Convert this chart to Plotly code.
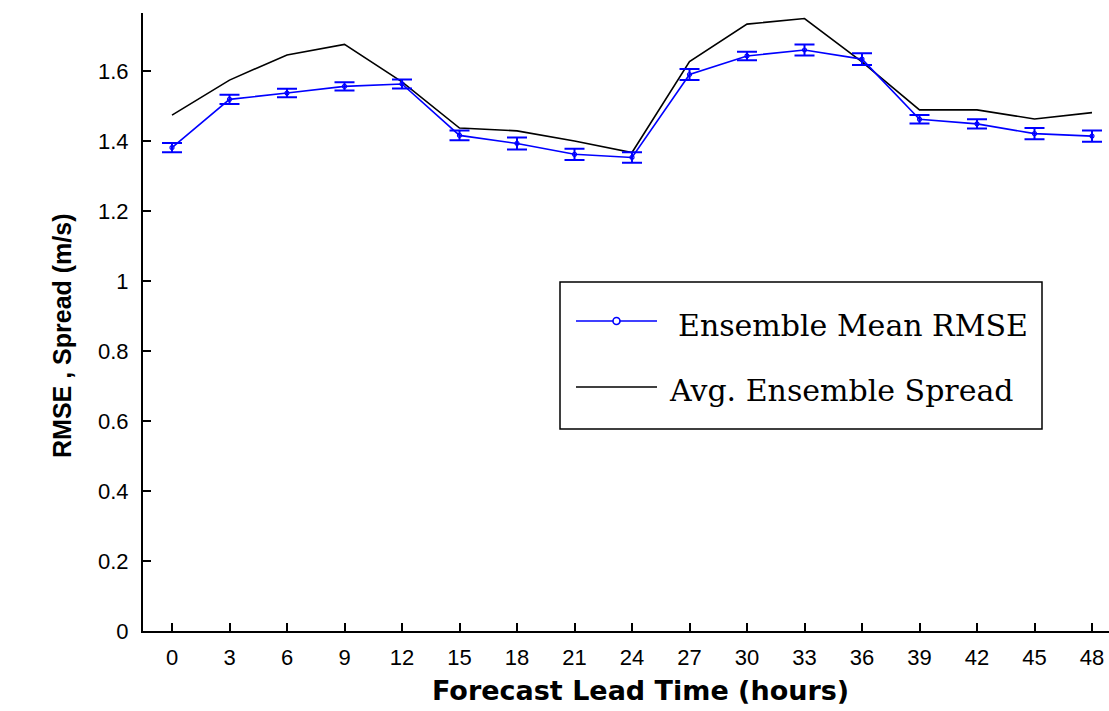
import plotly.graph_objects as go

lead_hours = [0, 3, 6, 9, 12, 15, 18, 21, 24, 27, 30, 33, 36, 39, 42, 45, 48]
rmse = [1.381, 1.519, 1.537, 1.556, 1.563, 1.416, 1.393, 1.362, 1.353,
        1.590, 1.643, 1.660, 1.634, 1.462, 1.449, 1.421, 1.414]
rmse_err = [0.013, 0.013, 0.012, 0.012, 0.013, 0.014, 0.017, 0.016, 0.015,
            0.016, 0.012, 0.016, 0.017, 0.012, 0.013, 0.016, 0.016]
spread = [1.474, 1.574, 1.646, 1.676, 1.569, 1.437, 1.429, 1.400, 1.367,
          1.627, 1.734, 1.750, 1.626, 1.489, 1.489, 1.463, 1.481]
y_tickvals = [0, 0.2, 0.4, 0.6, 0.8, 1.0, 1.2, 1.4, 1.6]
y_ticktext = ["0", "0.2", "0.4", "0.6", "0.8", "1", "1.2", "1.4", "1.6"]
x_ticktext = [str(h) for h in lead_hours]
series_names = ["Ensemble Mean RMSE", "Avg. Ensemble Spread"]
x_title = "Forecast Lead Time (hours)"
y_title = "RMSE , Spread (m/s)"

W, H = 1109, 711
ML, MR, MT, MB = 143, 0, 13, 80
PW, PH = W - ML - MR, H - MT - MB


def px(x):
    return (x - ML) / PW


def py(y):
    return (H - MB - y) / PH


fig = go.Figure()
fig.add_trace(go.Scatter(
    x=lead_hours, y=spread, mode="lines", name=series_names[1],
    line=dict(color="black", width=1.6), showlegend=False))
fig.add_trace(go.Scatter(
    x=lead_hours, y=rmse, mode="lines+markers", name=series_names[0],
    line=dict(color="#0000ff", width=1.6),
    marker=dict(symbol="circle-open", size=4, color="#0000ff", line=dict(width=1.2)),
    error_y=dict(type="data", array=rmse_err, visible=True, color="#0000ff",
                 thickness=2, width=10),
    showlegend=False))

tickfont = dict(family="Liberation Sans, Arial, sans-serif", size=22, color="black")
fig.update_xaxes(range=[-1.513, 48.887], tickvals=lead_hours, ticktext=x_ticktext,
                 ticks="inside", ticklen=8, tickwidth=1.5, tickcolor="black",
                 showline=True, linecolor="black", linewidth=2, showgrid=False,
                 zeroline=False, tickfont=tickfont, ticklabelstandoff=6)
fig.update_yaxes(range=[0, 1.7657], tickvals=y_tickvals, ticktext=y_ticktext,
                 ticks="inside", ticklen=8, tickwidth=1.5, tickcolor="black",
                 showline=True, linecolor="black", linewidth=2, showgrid=False,
                 zeroline=False, tickfont=tickfont, ticklabelstandoff=8)

# legend box drawn manually
shapes = [
    dict(type="rect", xref="paper", yref="paper", x0=px(560), x1=px(1042),
         y0=py(429), y1=py(282), line=dict(color="black", width=1.5),
         fillcolor="white", layer="above"),
    dict(type="line", xref="paper", yref="paper", x0=px(576), x1=px(657),
         y0=py(321), y1=py(321), line=dict(color="#0000ff", width=1.6)),
    dict(type="circle", xref="paper", yref="paper", x0=px(613), x1=px(620),
         y0=py(324.5), y1=py(317.5), line=dict(color="#0000ff", width=1.6),
         fillcolor="white"),
    dict(type="line", xref="paper", yref="paper", x0=px(576), x1=px(657),
         y0=py(387), y1=py(387), line=dict(color="black", width=1.6)),
]
legend_font = dict(family="DejaVu Serif, serif", size=30, color="black")
annotations = [
    dict(text=series_names[0], xref="paper", yref="paper", x=px(676), y=py(325),
         xanchor="left", yanchor="middle", showarrow=False, font=legend_font),
    dict(text=series_names[1], xref="paper", yref="paper", x=px(667), y=py(391),
         xanchor="left", yanchor="middle", showarrow=False, font=legend_font),
    dict(text=x_title, xref="paper", yref="paper", x=px(640), y=py(690),
         xanchor="center", yanchor="middle", showarrow=False,
         font=dict(family="DejaVu Sans, sans-serif", size=27, color="black",
                   weight="bold")),
    dict(text=y_title, xref="paper", yref="paper", x=px(62), y=py(336),
         xanchor="center", yanchor="middle", showarrow=False, textangle=-90,
         font=dict(family="Liberation Sans, Arial, sans-serif", size=25,
                   color="black", weight="bold")),
]

fig.update_layout(width=W, height=H, margin=dict(l=ML, r=MR, t=MT, b=MB),
                  paper_bgcolor="white", plot_bgcolor="white",
                  shapes=shapes, annotations=annotations, showlegend=False)

fig.write_html("out.html")
